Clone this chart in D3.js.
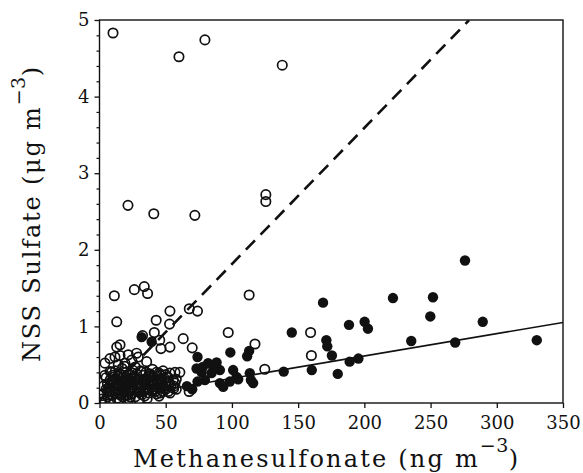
<!DOCTYPE html>
<html><head><meta charset="utf-8">
<script src="https://cdn.jsdelivr.net/npm/d3@7"></script>
<style>
body{margin:0;background:#fff;}
text{font-family:"DejaVu Serif",serif;fill:#111;}
</style></head>
<body><svg id="c" width="583" height="473"></svg>
<script>
// ---- data ----
const xTicks = [0, 50, 100, 150, 200, 250, 300, 350];
const yTicks = [0, 1, 2, 3, 4, 5];
const xLabel = "Methanesulfonate (ng m";
const yLabel = "NSS Sulfate (\u03bcg m";

// open circles (x: MSA ng/m3, y: NSS sulfate ug/m3)
const openX = [10.2,60,79.6,138,21.5,41,72,125.6,125.6,11.2,26.3,33.8,36.3,13,113,53.2,67.8,74,42.8,52.9,41.4,32.5,63.2,45.5,46.4,53.2,70,97.2,117.4,159.4,160,124.8,67.7,
 15.5,13,4.1,7.9,11.7,15.5,21.7,28,29.3,24.3,35.6,14.2,19.2,
 53.2,57,60.7,51.9,55.7,51.9,53.2,23,
 2,3,4,5,6,6,7,8,8,9,10,10,11,12,12,13,13,14,15,15,16,17,17,18,18,19,20,20,21,22,22,23,24,24,25,26,26,27,28,28,29,30,31,31,32,33,33,34,35,35,36,37,38,38,39,40,40,41,42,43,43,44,45,46,47,48,48,49,50,50,45,36,30,56,58,27,19,
 3,5,7,9,11,13,14,16,18,20,21,23,25,27,29,30,32,34,36,38,39,41,42,44,46,47,49,51,54,57,4,9,15,22,28,34,40,46,52,58,
 6,8,10,12,14,17,19,21,24,26,29,31,33,35,37,40,42,44,47,50,53,56,11,16,25,32,39,45,20,8];
const openY = [4.83,4.52,4.74,4.41,2.58,2.47,2.45,2.72,2.63,1.40,1.48,1.52,1.43,1.06,1.41,1.20,1.23,1.20,1.08,1.03,0.92,0.88,0.84,0.82,0.71,0.73,0.72,0.92,0.77,0.92,0.62,0.44,0.15,
 0.76,0.73,0.52,0.58,0.60,0.62,0.63,0.65,0.60,0.56,0.54,0.50,0.52,
 0.39,0.40,0.40,0.28,0.30,0.15,0.13,0.08,
 0.05,0.12,0.02,0.18,0.08,0.25,0.14,0.30,0.04,0.20,0.10,0.36,0.26,0.16,0.42,0.06,0.31,0.22,0.12,0.38,0.28,0.18,0.45,0.08,0.33,0.24,0.14,0.40,0.30,0.20,0.05,0.36,0.26,0.12,0.43,0.18,0.32,0.08,0.24,0.38,0.15,0.30,0.20,0.42,0.11,0.27,0.36,0.17,0.40,0.25,0.32,0.13,0.22,0.38,0.29,0.16,0.44,0.34,0.24,0.12,0.40,0.30,0.20,0.36,0.27,0.15,0.42,0.32,0.22,0.37,0.09,0.06,0.04,0.22,0.18,0.47,0.48,
 0.22,0.33,0.20,0.28,0.19,0.24,0.35,0.10,0.27,0.33,0.10,0.29,0.21,0.34,0.26,0.14,0.21,0.28,0.19,0.30,0.35,0.27,0.18,0.35,0.24,0.32,0.19,0.34,0.22,0.26,0.36,0.40,0.05,0.27,0.30,0.09,0.27,0.13,0.33,0.31,
 0.16,0.23,0.29,0.13,0.25,0.21,0.16,0.24,0.17,0.28,0.20,0.25,0.15,0.30,0.19,0.24,0.15,0.26,0.21,0.18,0.25,0.19,0.34,0.37,0.39,0.41,0.36,0.39,0.11,0.41];

// filled circles
const filledX = [276,168.8,221.6,251.8,249.8,188.4,200.2,202.7,289.4,145.2,171.3,172,235.4,268.6,330.2,175.5,195.5,188.9,160.3,179.9,139.1,113,111.5,103.5,104.7,113.5,114.3,116,98.8,74,73.3,82,88.4,77.1,84.6,90.9,100.9,74,90.9,93.4,79.6,98.4,39.4,31.8,78,86,66,70];
const filledY = [1.86,1.31,1.37,1.38,1.13,1.02,1.06,0.97,1.06,0.92,0.82,0.74,0.81,0.79,0.82,0.62,0.58,0.54,0.43,0.38,0.41,0.68,0.61,0.34,0.31,0.39,0.30,0.26,0.66,0.60,0.45,0.52,0.53,0.40,0.39,0.43,0.43,0.28,0.26,0.21,0.30,0.28,0.80,0.86,0.47,0.46,0.22,0.18];

// regression lines: [intercept, slope, xEnd]
const solidLine = [0.03, 0.00292, 350];
const dashedLine = [0.036, 0.01778, 279];

// ---- drawing ----
const svg = d3.select("#c");
const L = 99.5, R = 563, T = 20, B = 403;
const x = d3.scaleLinear().domain([0, 350]).range([L, R]);
const y = d3.scaleLinear().domain([0, 5]).range([B, T]);

// frame
svg.append("rect").attr("x", L).attr("y", T).attr("width", R - L).attr("height", B - T)
  .attr("fill", "none").attr("stroke", "#111").attr("stroke-width", 1.4);

// x axis
const xa = svg.append("g").attr("transform", `translate(0,${B})`)
  .call(d3.axisBottom(x).tickValues(xTicks).tickSize(5).tickPadding(8).tickFormat(d3.format("d")));
xa.select(".domain").remove();
xa.selectAll("line").attr("stroke", "#111").attr("stroke-width", 1.3);
xa.selectAll("text").attr("font-size", 18).attr("font-family", "DejaVu Serif").attr("fill", "#111");

// y axis minor
const minor = d3.range(0, 5.001, 0.2).filter(v => Math.abs(v - Math.round(v)) > 1e-6);
const ya2 = svg.append("g").attr("transform", `translate(${L},0)`)
  .call(d3.axisLeft(y).tickValues(minor).tickSize(3).tickFormat(""));
ya2.select(".domain").remove();
ya2.selectAll("line").attr("stroke", "#111").attr("stroke-width", 1.2);

const ya = svg.append("g").attr("transform", `translate(${L},0)`)
  .call(d3.axisLeft(y).tickValues(yTicks).tickSize(5).tickPadding(5).tickFormat(d3.format("d")));
ya.select(".domain").remove();
ya.selectAll("line").attr("stroke", "#111").attr("stroke-width", 1.3);
ya.selectAll("text").attr("font-size", 18).attr("font-family", "DejaVu Serif").attr("fill", "#111");

// clip
svg.append("clipPath").attr("id", "clip").append("rect")
  .attr("x", L).attr("y", T).attr("width", R - L).attr("height", B - T);
const g = svg.append("g").attr("clip-path", "url(#clip)");

const line = d3.line().x(d => x(d[0])).y(d => y(d[1]));
g.append("path").datum([[0, solidLine[0]], [solidLine[2], solidLine[0] + solidLine[1] * solidLine[2]]])
  .attr("d", line).attr("stroke", "#111").attr("stroke-width", 1.6).attr("fill", "none");
g.append("path").datum([[0, dashedLine[0]], [dashedLine[2], dashedLine[0] + dashedLine[1] * dashedLine[2]]])
  .attr("d", line).attr("stroke", "#111").attr("stroke-width", 2.6).attr("fill", "none")
  .attr("stroke-dasharray", "13,8");

const openPts = openX.map((v, i) => [v, openY[i]]);
const filledPts = filledX.map((v, i) => [v, filledY[i]]);

g.selectAll("circle.o").data(openPts).join("circle").attr("class", "o")
  .attr("cx", d => x(d[0])).attr("cy", d => y(d[1])).attr("r", 4.7)
  .attr("fill", "none").attr("stroke", "#111").attr("stroke-width", 1.7);
g.selectAll("circle.f").data(filledPts).join("circle").attr("class", "f")
  .attr("cx", d => x(d[0])).attr("cy", d => y(d[1])).attr("r", 5.2)
  .attr("fill", "#111");

// axis titles
const xt = svg.append("text").attr("x", 133).attr("y", 467).attr("font-size", 24)
  .attr("letter-spacing", 2.2);
xt.append("tspan").text(xLabel);
xt.append("tspan").attr("dy", -15).attr("font-size", 19).attr("letter-spacing", 0.5).text("\u22123");
xt.append("tspan").attr("dy", 15).text(")");

const yt = svg.append("text").attr("transform", "translate(40,362) rotate(-90)")
  .attr("x", 0).attr("y", 0).attr("font-size", 24).attr("letter-spacing", 1.8);
yt.append("tspan").text(yLabel);
yt.append("tspan").attr("dy", -15).attr("font-size", 19).attr("letter-spacing", 0.5).text("\u22123");
yt.append("tspan").attr("dy", 15).text(")");
</script></body></html>
